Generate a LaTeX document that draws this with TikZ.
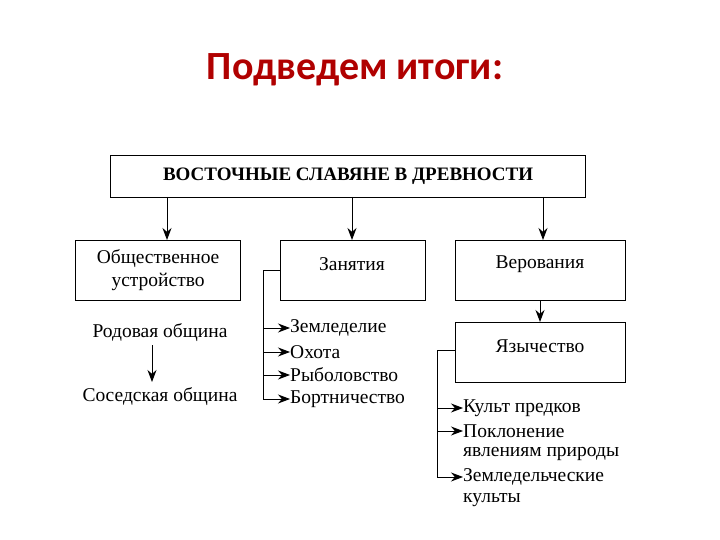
\documentclass[tikz,border=0pt]{standalone}
\usepackage{fontspec}
\setmainfont{Liberation Serif}
\newfontfamily\titlefont{Carlito}
\usetikzlibrary{arrows.meta}
\definecolor{titlered}{HTML}{B00000}
\begin{document}
\begin{tikzpicture}[x=1pt,y=-1pt,
  box/.style={draw,line width=1.2pt,minimum width=#1,minimum height=60pt,inner sep=0pt,anchor=north west},
  txt/.style={font=\fontsize{19.5}{23}\selectfont,inner sep=0pt},
  lbl/.style={txt,anchor=west},
  arr/.style={-{Stealth[length=12pt,width=9pt]},line width=1pt},
  ln/.style={line width=1pt}]
\useasboundingbox (0,0) rectangle (720,540);
\node[font=\titlefont\bfseries\fontsize{40}{44}\selectfont,text=titlered] (title) at (355,70) {Подведем итоги:};
\node[box=475pt,minimum height=42pt] (top) at (110,155) {};
\node[font=\bfseries\fontsize{19}{21}\selectfont] (toplbl) at (top.center) {ВОСТОЧНЫЕ СЛАВЯНЕ В ДРЕВНОСТИ};
\node[box=165pt] (b1) at (75,240) {};
\node[txt,align=center,font=\fontsize{19.5}{23}\selectfont] (b1l) at (b1.center) {Общественное\\устройство};
\node[box=145pt] (b2) at (280,240) {};
\node[txt] (b2l) at (352,264) {Занятия};
\node[box=170pt] (b3) at (455,240) {};
\node[txt] (b3l) at (540,264) {Верования};
\node[box=170pt] (b4) at (455,322) {};
\node[txt] (b4l) at (540,346) {Язычество};
\draw[arr] (167,197) -- (b1.north -| 167,0);
\draw[arr] (352,197) -- (b2.north -| 352,0);
\draw[arr] (543,197) -- (b3.north -| 543,0);
\draw[arr] (540,300) -- (b4.north -| 540,0);
\node[txt] (rod) at (160,333) {Родовая община};
\node[txt] (sos) at (160,397) {Соседская община};
\draw[arr] (152,345) -- (152,382);
% occupations
\node[lbl] (z1) at (290,328) {Земледелие};
\node[lbl] (z2) at (290,352) {Охота};
\node[lbl] (z3) at (290,375) {Рыболовство};
\node[lbl] (z4) at (290,399) {Бортничество};
\coordinate (c2) at (263,270);
\draw[ln] (b2.west |- c2) -- (c2) -- (263,399);
\foreach \n in {z1,z2,z3,z4} \draw[arr] (c2 |- \n.west) -- (\n.west);
% beliefs
\node[lbl] (v1) at (463,408) {Культ предков};
\node[lbl] (v2) at (463,431) {Поклонение};
\node[lbl] (v3) at (463,454) {явлениям природы};
\node[lbl] (v4) at (463,477) {Земледельческие};
\node[lbl] (v5) at (463,500) {культы};
\coordinate (c4) at (437,350);
\draw[ln] (b4.west |- c4) -- (c4) -- (437,477);
\foreach \n in {v1,v2,v4} \draw[arr] (c4 |- \n.west) -- (\n.west);
\end{tikzpicture}
\end{document}
